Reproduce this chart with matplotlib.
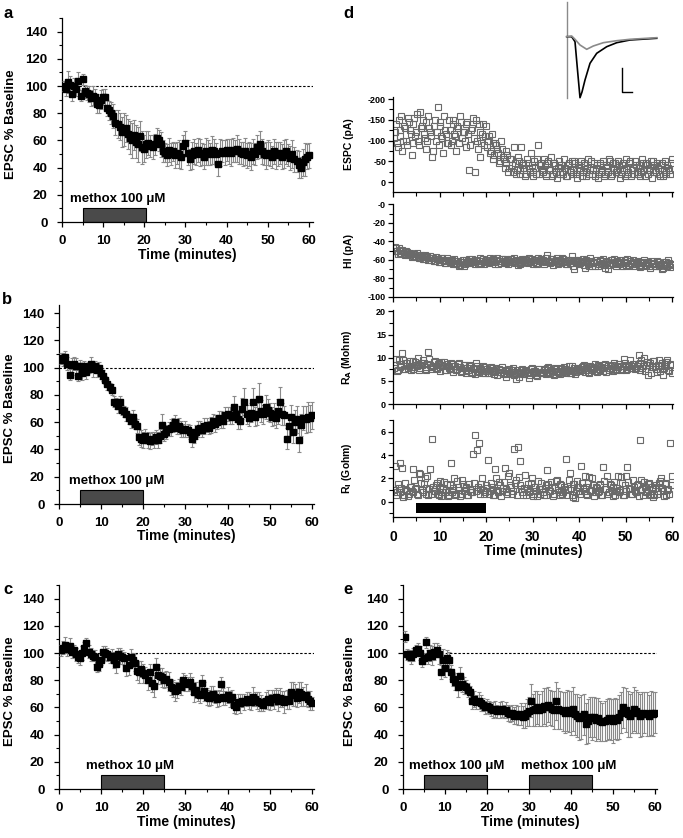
import numpy as np
import matplotlib
matplotlib.use("Agg")
import matplotlib.pyplot as plt
from matplotlib.ticker import MultipleLocator

plt.rcParams['font.family'] = ['Liberation Sans', 'DejaVu Sans']
plt.rcParams['font.weight'] = 'bold'
plt.rcParams['axes.unicode_minus'] = False

# time grids (one sample every 0.5 min for the summary panels, 0.2 min for the single cell)
t_main = np.arange(1, 121) * 0.5
t_cell = np.arange(1, 151) * 0.4
t_cell2 = t_cell - 0.2

# panel a - methox 100 uM
a_val = [100, 98, 103, 101, 94, 100, 98, 104, 93, 105,
         96, 95, 94, 91, 93, 92, 87, 86, 90, 92,
         92, 84, 82, 80, 78, 73, 72, 70, 66, 68,
         69, 65, 62, 60, 64, 59, 57, 63, 55, 54,
         57, 58, 56, 55, 57, 62, 60, 57, 52, 51,
         49, 53, 50, 52, 49, 51, 50, 48, 56, 58,
         51, 46, 49, 52, 50, 53, 51, 50, 48, 52,
         51, 50, 53, 52, 50, 43, 51, 52, 51, 53,
         52, 51, 53, 52, 54, 52, 51, 50, 52, 49,
         50, 48, 52, 50, 55, 57, 52, 50, 49, 51,
         50, 48, 52, 49, 50, 51, 48, 50, 52, 49,
         47, 50, 46, 45, 42, 40, 44, 46, 48, 49]
a_err = [4, 5, 8, 6, 5, 6, 5, 6, 4, 4,
         5, 5, 6, 6, 7, 6, 7, 6, 7, 6,
         6, 6, 7, 8, 9, 9, 10, 10, 11, 12,
         10, 11, 12, 13, 11, 12, 13, 11, 12, 10,
         10, 9, 8, 9, 8, 7, 8, 9, 8, 7,
         8, 9, 8, 7, 9, 8, 10, 9, 8, 9,
         9, 8, 10, 9, 8, 9, 10, 8, 9, 10,
         9, 8, 10, 9, 8, 9, 10, 8, 9, 8,
         9, 10, 9, 8, 10, 9, 8, 9, 10, 9,
         9, 10, 9, 8, 9, 10, 9, 8, 10, 9,
         9, 8, 9, 10, 9, 8, 9, 10, 9, 8,
         9, 10, 9, 8, 10, 8, 10, 12, 9, 9]

# panel b - methox 100 uM
b_val = [107, 106, 108, 103, 95, 102, 103, 101, 94, 101,
         96, 101, 97, 100, 103, 99, 101, 98, 100, 96,
         94, 91, 88, 86, 84, 75, 74, 72, 75, 69,
         68, 66, 63, 61, 64, 59, 57, 49, 48, 47,
         50, 47, 46, 48, 47, 49, 47, 50, 58, 51,
         53, 55, 56, 58, 60, 56, 57, 55, 54, 55,
         54, 53, 48, 50, 53, 55, 56, 54, 57, 58,
         56, 58, 61, 59, 60, 63, 62, 61, 65, 66,
         65, 64, 71, 66, 62, 61, 70, 75, 66, 63,
         67, 75, 64, 66, 77, 68, 66, 71, 69, 67,
         64, 66, 63, 68, 75, 66, 65, 48, 57, 64,
         53, 60, 62, 47, 58, 63, 62, 64, 63, 65]
b_err = [4, 5, 4, 5, 4, 5, 5, 6, 4, 5,
         5, 4, 5, 4, 5, 6, 4, 5, 4, 4,
         4, 3, 4, 3, 4, 4, 4, 5, 4, 4,
         4, 5, 4, 5, 5, 4, 5, 6, 6, 6,
         5, 6, 6, 5, 6, 5, 6, 5, 8, 5,
         5, 5, 6, 5, 5, 5, 6, 6, 5, 6,
         5, 5, 6, 5, 5, 6, 5, 5, 6, 5,
         5, 6, 5, 6, 5, 5, 6, 5, 6, 5,
         6, 5, 8, 6, 7, 6, 8, 10, 7, 6,
         7, 10, 7, 8, 12, 8, 7, 9, 8, 7,
         7, 8, 7, 9, 11, 8, 7, 8, 7, 9,
         8, 9, 10, 9, 8, 9, 10, 11, 10, 10]

# panel c - methox 10 uM
c_val = [102, 104, 106, 103, 105, 101, 102, 99, 97, 96,
         100, 104, 107, 101, 99, 98, 97, 90, 92, 95,
         101, 100, 99, 97, 98, 95, 92, 99, 98, 97,
         96, 89, 91, 97, 95, 93, 87, 86, 88, 85,
         84, 80, 86, 78, 76, 90, 84, 83, 82, 80,
         81, 79, 75, 74, 72, 73, 76, 75, 80, 78,
         77, 79, 76, 71, 73, 70, 69, 78, 72, 68,
         67, 69, 70, 68, 66, 67, 77, 68, 67, 69,
         66, 68, 62, 60, 64, 63, 65, 64, 66, 65,
         64, 68, 66, 65, 64, 63, 62, 65, 66, 64,
         67, 66, 68, 65, 67, 66, 64, 66, 65, 71,
         70, 69, 67, 71, 70, 68, 69, 66, 65, 63]
c_err = [4, 5, 6, 5, 6, 5, 4, 5, 4, 5,
         5, 4, 4, 5, 5, 4, 5, 4, 5, 4,
         4, 5, 5, 4, 5, 6, 7, 5, 6, 5,
         5, 6, 7, 6, 5, 6, 7, 8, 6, 7,
         6, 7, 6, 7, 8, 6, 7, 6, 7, 6,
         6, 7, 6, 6, 7, 6, 5, 6, 5, 6,
         5, 6, 6, 7, 6, 5, 6, 6, 7, 6,
         6, 7, 6, 5, 6, 6, 5, 6, 5, 6,
         6, 5, 6, 5, 6, 7, 5, 6, 5, 6,
         6, 7, 5, 6, 7, 6, 5, 6, 7, 6,
         6, 7, 6, 8, 7, 6, 8, 7, 6, 8,
         9, 8, 7, 8, 9, 7, 8, 6, 7, 5]

# panel e - two applications of methox 100 uM
e_val = [112, 99, 98, 97, 99, 102, 103, 100, 94, 96,
         108, 97, 100, 98, 101, 102, 99, 86, 95, 89,
         96, 95, 86, 81, 79, 75, 83, 77, 76, 75,
         73, 71, 65, 66, 64, 65, 63, 62, 60, 61,
         60, 59, 58, 59, 57, 58, 59, 57, 58, 56,
         55, 56, 54, 55, 54, 55, 53, 54, 56, 57,
         65, 58, 59, 60, 58, 59, 61, 60, 62, 60,
         59, 58, 65, 59, 58, 57, 56, 58, 57, 56,
         59, 55, 54, 52, 53, 55, 48, 50, 53, 52,
         53, 51, 52, 50, 49, 50, 51, 52, 51, 50,
         52, 51, 53, 56, 60, 58, 55, 54, 56, 59,
         57, 56, 54, 55, 56, 55, 54, 56, 55, 56]
e_err = [4, 4, 4, 5, 5, 4, 4, 5, 4, 4,
         4, 5, 6, 7, 6, 5, 7, 5, 8, 7,
         6, 6, 5, 5, 6, 7, 7, 6, 6, 5,
         5, 5, 6, 6, 5, 6, 6, 5, 5, 5,
         5, 5, 6, 6, 5, 6, 6, 5, 6, 6,
         6, 6, 6, 7, 7, 8, 8, 9, 10, 11,
         12, 12, 13, 12, 12, 13, 13, 14, 13, 13,
         13, 14, 14, 15, 14, 14, 15, 15, 15, 16,
         16, 15, 16, 16, 16, 15, 15, 16, 15, 16,
         15, 16, 15, 15, 14, 15, 15, 15, 15, 16,
         15, 15, 16, 15, 15, 16, 17, 16, 15, 16,
         16, 15, 16, 16, 15, 16, 15, 16, 16, 15]

# panel d - single cell recording (two interleaved sample sets)
espc = [-120, -95, -150, -110, -75, -135, -100, -155, -125, -65,
        -140, -110, -165, -90, -130, -150, -105, -80, -160, -120,
        -60, -135, -100, -180, -145, -110, -70, -125, -95, -150,
        -90, -140, -115, -75, -130, -160, -105, -120, -85, -145,
        -30, -125, -155, -25, -100, -140, -60, -115, -90, -135,
        -100, -70, -115, -55, -95, -80, -45, -100, -60, -35,
        -75, -25, -55, -40, -85, -20, -60, -30, -85, -45,
        -15, -55, -35, -70, -25, -50, -20, -90, -40, -30,
        -55, -15, -45, -30, -60, -20, -40, -10, -50, -35,
        -25, -55, -15, -40, -30, -50, -20, -45, -10, -35,
        -50, -25, -40, -15, -55, -30, -20, -45, -35, -10,
        -40, -25, -50, -20, -35, -55, -15, -45, -30, -25,
        -50, -10, -40, -30, -55, -20, -45, -15, -35, -50,
        -25, -40, -15, -55, -30, -45, -20, -35, -10, -50,
        -30, -45, -20, -40, -15, -50, -25, -35, -20, -55]
espc2 = [-105, -140, -85, -125, -160, -100, -130, -90, -145, -115,
         -95, -155, -120, -100, -170, -135, -115, -145, -100, -130,
         -110, -75, -150, -120, -90, -135, -105, -160, -115, -95,
         -125, -100, -150, -110, -135, -95, -145, -120, -100, -140,
         -115, -90, -130, -105, -150, -80, -120, -95, -140, -110,
         -85, -110, -75, -95, -65, -90, -70, -50, -80, -55,
         -45, -65, -35, -55, -25, -45, -30, -50, -20, -40,
         -35, -20, -45, -25, -40, -15, -35, -55, -20, -45,
         -25, -40, -20, -50, -30, -15, -45, -25, -35, -20,
         -40, -20, -35, -15, -45, -25, -30, -50, -20, -40,
         -30, -15, -45, -25, -35, -20, -50, -30, -15, -40,
         -20, -45, -30, -15, -40, -25, -50, -20, -35, -45,
         -30, -40, -20, -45, -15, -35, -25, -50, -30, -20,
         -40, -20, -35, -25, -45, -15, -40, -30, -50, -25,
         -40, -25, -35, -15, -45, -30, -20, -40, -30, -45]
hold_i = [-46, -50, -47, -52, -49, -54, -50, -55, -52, -57,
          -53, -56, -52, -58, -55, -59, -55, -57, -60, -56,
          -58, -61, -57, -59, -62, -58, -60, -63, -58, -61,
          -60, -63, -59, -64, -61, -65, -62, -66, -60, -63,
          -59, -62, -61, -64, -60, -63, -58, -61, -64, -60,
          -62, -58, -61, -60, -64, -58, -61, -63, -59, -59,
          -61, -64, -59, -62, -58, -61, -65, -60, -63, -61,
          -59, -62, -58, -61, -64, -60, -63, -58, -61, -60,
          -64, -61, -55, -62, -59, -65, -61, -58, -63, -60,
          -58, -62, -64, -60, -63, -56, -66, -60, -61, -64,
          -62, -59, -69, -61, -64, -58, -67, -62, -60, -66,
          -61, -64, -59, -69, -62, -65, -60, -63, -59, -67,
          -63, -60, -66, -62, -65, -59, -67, -63, -60, -66,
          -62, -65, -68, -63, -60, -66, -62, -69, -64, -63,
          -66, -61, -67, -64, -69, -62, -66, -60, -68, -64]
hold_i2 = [-50, -47, -53, -49, -52, -50, -55, -51, -54, -53,
           -56, -54, -57, -55, -58, -56, -59, -57, -56, -58,
           -60, -58, -61, -59, -62, -60, -58, -61, -63, -60,
           -62, -60, -64, -61, -63, -66, -62, -60, -64, -62,
           -61, -63, -59, -62, -60, -64, -61, -63, -59, -62,
           -60, -63, -61, -59, -62, -60, -64, -61, -59, -62,
           -63, -60, -62, -59, -61, -63, -60, -62, -64, -59,
           -62, -60, -63, -61, -59, -62, -60, -64, -61, -59,
           -60, -62, -58, -61, -63, -59, -62, -60, -64, -61,
           -62, -59, -61, -64, -60, -63, -61, -70, -62, -60,
           -63, -61, -65, -60, -62, -66, -61, -63, -67, -62,
           -64, -60, -63, -65, -61, -70, -63, -60, -64, -62,
           -61, -64, -62, -66, -60, -63, -65, -61, -64, -62,
           -64, -61, -63, -66, -62, -65, -63, -67, -61, -64,
           -63, -67, -62, -65, -70, -64, -62, -66, -63, -65]
r_a = [8.5, 7.2, 9.5, 8.0, 11.0, 7.5, 8.8, 7.8, 9.2, 8.0,
       7.6, 9.0, 8.3, 7.4, 8.8, 9.6, 8.0, 7.5, 11.3, 8.5,
       8.0, 9.1, 7.7, 8.6, 7.9, 9.0, 8.2, 7.4, 8.7, 7.8,
       8.9, 7.5, 8.2, 7.3, 8.6, 7.9, 7.1, 8.4, 6.8, 7.7,
       8.3, 7.0, 7.8, 6.5, 8.1, 7.2, 7.6, 6.8, 7.9, 7.1,
       6.6, 7.4, 7.8, 6.9, 7.2, 6.3, 7.6, 7.0, 6.5, 7.3,
       5.8, 7.1, 6.7, 7.4, 6.2, 5.5, 7.0, 6.6, 7.3, 6.4,
       7.2, 6.8, 5.6, 7.5, 6.9, 7.1, 6.3, 7.6, 6.6, 7.0,
       7.4, 6.5, 7.8, 6.9, 7.3, 6.4, 7.7, 7.0, 6.6, 7.5,
       7.1, 7.9, 6.7, 7.4, 6.8, 8.1, 7.2, 6.5, 7.8, 7.3,
       7.6, 8.3, 7.0, 7.7, 6.9, 8.2, 7.4, 7.9, 7.1, 8.4,
       7.5, 8.0, 7.2, 8.6, 7.7, 7.3, 8.1, 7.6, 8.8, 7.4,
       7.9, 8.3, 7.5, 9.8, 8.0, 7.6, 8.4, 7.8, 8.7, 7.5,
       8.2, 10.5, 8.9, 7.7, 10.0, 8.4, 6.2, 8.8, 7.9, 9.2,
       8.1, 7.0, 9.5, 8.3, 6.3, 8.7, 9.1, 7.4, 8.6, 6.8]
r_a2 = [7.8, 9.8, 7.3, 8.6, 8.2, 9.4, 7.6, 8.9, 8.1, 7.4,
        9.3, 7.9, 8.5, 9.9, 7.7, 8.4, 8.9, 7.3, 8.6, 9.7,
        7.5, 8.3, 9.2, 7.6, 8.8, 7.2, 8.5, 9.0, 7.4, 8.1,
        7.6, 8.7, 7.0, 8.2, 7.5, 8.8, 6.9, 7.8, 8.4, 7.2,
        7.4, 8.5, 6.7, 7.6, 8.9, 6.9, 7.7, 7.3, 8.2, 6.6,
        7.5, 6.8, 8.0, 7.1, 6.4, 7.7, 6.9, 7.4, 7.9, 6.7,
        7.2, 6.5, 7.6, 6.9, 7.8, 6.4, 7.3, 5.9, 6.8, 7.5,
        6.5, 7.4, 7.0, 6.3, 7.7, 6.6, 7.2, 6.0, 7.5, 6.8,
        7.0, 7.6, 6.6, 7.9, 6.8, 7.2, 6.3, 7.5, 7.1, 6.5,
        7.7, 6.9, 7.5, 7.1, 8.3, 6.6, 7.4, 7.8, 6.9, 7.6,
        7.2, 7.9, 8.5, 7.3, 7.8, 6.8, 8.0, 7.5, 8.7, 7.0,
        8.2, 7.4, 7.8, 8.4, 6.9, 8.3, 7.7, 8.5, 7.2, 8.0,
        7.6, 8.6, 7.3, 8.1, 8.9, 7.4, 8.2, 9.4, 7.7, 8.3,
        7.8, 8.6, 7.4, 9.6, 8.1, 7.2, 9.0, 8.5, 6.8, 8.0,
        9.3, 7.6, 8.4, 7.2, 8.9, 7.7, 8.2, 9.4, 7.1, 8.5]
r_i = [3.1, 0.8, 1.2, 3.3, 2.9, 0.6, 1.0, 0.5, 1.3, 0.9,
       2.8, 1.1, 0.7, 2.5, 1.6, 0.8, 2.0, 1.2, 0.6, 2.8,
       5.4, 0.9, 1.4, 0.7, 1.8, 0.5, 1.1, 0.8, 1.5, 0.6,
       3.3, 1.0, 2.0, 0.7, 1.3, 0.5, 1.9, 0.9, 1.2, 0.6,
       1.5, 0.8, 4.1, 5.7, 4.4, 5.0, 1.1, 2.0, 0.7, 1.4,
       3.6, 0.9, 1.3, 0.6, 2.8, 1.0, 1.7, 0.5, 1.2, 2.9,
       0.8, 2.2, 1.4, 0.7, 4.5, 1.9, 4.7, 3.5, 1.1, 0.6,
       2.3, 1.2, 0.8, 1.6, 0.5, 1.3, 0.9, 1.8, 0.7, 1.1,
       0.6, 1.4, 2.7, 0.9, 1.7, 0.5, 1.2, 1.9, 0.8, 1.5,
       0.7, 1.3, 3.7, 1.0, 2.5, 0.6, 1.5, 0.3, 1.8, 0.9,
       3.1, 1.2, 2.2, 0.7, 1.6, 0.9, 2.0, 0.5, 1.3, 0.8,
       1.5, 0.6, 3.0, 1.1, 2.2, 0.8, 1.4, 0.5, 1.7, 0.9,
       2.2, 1.0, 1.6, 0.6, 2.2, 3.0, 1.2, 0.7, 1.9, 0.9,
       1.4, 0.5, 5.3, 1.1, 1.7, 0.8, 1.5, 0.6, 1.3, 0.4,
       1.2, 0.7, 1.6, 2.0, 0.9, 1.5, 0.6, 1.1, 5.0, 2.2]
r_i2 = [1.0, 0.6, 1.5, 0.8, 1.2, 0.4, 1.6, 0.9, 0.7, 1.3,
        0.8, 1.9, 1.2, 0.6, 2.4, 1.0, 1.5, 0.7, 2.2, 1.1,
        0.7, 1.3, 0.9, 1.6, 0.6, 1.2, 0.8, 1.7, 1.0, 0.5,
        1.4, 0.8, 1.2, 0.6, 1.8, 1.0, 0.7, 1.5, 0.9, 1.3,
        0.6, 1.1, 0.8, 1.6, 0.9, 1.3, 0.7, 1.5, 1.0, 0.8,
        1.2, 0.7, 1.6, 1.0, 0.6, 2.0, 0.8, 1.4, 0.9, 1.7,
        1.1, 0.7, 2.5, 1.3, 0.9, 1.6, 0.6, 2.1, 1.4, 0.8,
        1.2, 0.6, 1.5, 0.9, 2.0, 0.7, 1.3, 0.5, 1.1, 1.6,
        0.8, 1.2, 0.6, 1.5, 0.9, 1.3, 0.7, 1.8, 1.0, 0.6,
        1.4, 0.8, 1.1, 0.6, 1.9, 1.2, 0.4, 1.5, 0.9, 1.3,
        0.7, 1.6, 0.9, 1.3, 0.6, 2.1, 1.0, 1.4, 0.8, 1.2,
        0.9, 1.4, 0.6, 1.8, 1.1, 0.7, 1.5, 0.9, 1.3, 0.6,
        1.2, 0.8, 2.1, 0.6, 1.4, 0.9, 1.7, 1.1, 0.7, 1.3,
        0.8, 1.5, 1.0, 1.9, 0.6, 1.3, 0.9, 1.6, 0.7, 1.1,
        0.6, 1.4, 0.9, 1.8, 1.2, 0.5, 1.6, 1.0, 0.7, 1.4]

# example traces (inset of d), arbitrary units
trace_t_ctrl = [0, 5, 8.3, 10.8, 13.3, 15.3, 18.3, 23.3, 30, 40, 50, 63.3, 90]
trace_ctrl = [0.8, 0.8, -4.2, -32.5, -60.2, -54.5, -42.5, -25.8, -15.8, -9.2, -5.2, -2.5, -0.8]
trace_t_drug = [0, 5, 8.3, 13.3, 20, 26.6, 36.6, 50, 63.3, 90]
trace_drug = [0.8, 1.5, -1.8, -7.5, -11.8, -8.5, -5.2, -3.2, -1.8, -0.2]
artifact = [35.8, -60.5]
scalebar_x = [55, 55, 65]
scalebar_y = [-30.8, -54.2, -54.2]

W, H = 683, 838
fig = plt.figure(figsize=(W / 100, H / 100), dpi=100)


def px_axes(left, top, right, bottom):
    return fig.add_axes([left / W, 1 - bottom / H, (right - left) / W, (bottom - top) / H])


def style_axes(ax, fs):
    for s in ['top', 'right']:
        ax.spines[s].set_visible(False)
    for s in ['left', 'bottom']:
        ax.spines[s].set_linewidth(0.9)
    ax.tick_params(which='major', direction='out', length=3.5, width=0.9, labelsize=fs)
    ax.tick_params(which='minor', direction='out', length=2.2, width=0.8)


def summary_panel(box, vals, errs, bars, labels, xmax, ymax, ylab_x):
    ax = px_axes(*box)
    ax.errorbar(t_main, vals, yerr=errs, fmt='s', color='black', ms=5,
                ecolor='#8a8a8a', elinewidth=0.8, capsize=1.6, capthick=0.8, zorder=3)
    ax.plot([0, xmax], [100, 100], color='black', lw=0.8, ls=(0, (2.2, 1.6)), zorder=1)
    for (x0, x1), (tx, txt) in zip(bars, labels):
        ax.bar(x0, 10.5, width=x1 - x0, align='edge', color='#4a4a4a',
               edgecolor='black', linewidth=0.8, zorder=2)
        ax.text(tx, 14.5, txt, fontsize=9.5, fontweight='bold', va='baseline')
    ax.set_xlim(0, xmax)
    ax.set_ylim(0, ymax)
    ax.set_xticks(range(0, 61, 10))
    ax.set_yticks(range(0, 141, 20))
    ax.xaxis.set_minor_locator(MultipleLocator(5))
    ax.yaxis.set_minor_locator(MultipleLocator(10))
    style_axes(ax, 9.5)
    ax.tick_params(axis='x', which='major', pad=6)
    ax.tick_params(axis='y', which='major', pad=7)
    ax.set_xlabel('Time (minutes)', fontsize=10, fontweight='bold')
    ax.set_ylabel('EPSC % Baseline', fontsize=9.5, fontweight='bold')
    ax.xaxis.set_label_coords(0.5, -0.125)
    ax.yaxis.set_label_coords(ylab_x, 0.48)
    return ax


summary_panel((62, 18, 313, 222), a_val, a_err, [(5, 20.3)], [(1.9, 'methox 100 μM')], 61, 150, -0.18)
summary_panel((59, 305, 314, 504), b_val, b_err, [(5, 20)], [(2.4, 'methox 100 μM')], 60.5, 146, -0.168)
summary_panel((59, 585, 314, 789), c_val, c_err, [(10, 25)], [(6.5, 'methox 10 μM')], 60.5, 150, -0.168)
summary_panel((403, 585, 657, 789), e_val, e_err, [(5, 20), (30, 45)],
              [(1.4, 'methox 100 μM'), (28, 'methox 100 μM')], 60.5, 150, -0.185)

# panel d: four stacked single-cell axes
cell_boxes = [(393, 97, 673, 192), (393, 204, 673, 297), (393, 310, 673, 404), (393, 420, 673, 517)]
cell_data = [(espc, espc2), (hold_i, hold_i2), (r_a, r_a2), (r_i, r_i2)]
cell_labels = ['ESPC (pA)', 'HI (pA)', 'R$_\\mathbf{A}$ (Mohm)', 'R$_\\mathbf{I}$ (Gohm)']
cell_ylims = [(24, -205), (-100, 0.5), (0, 20.3), (-1.3, 7.0)]
cell_ticks = [[-200, -150, -100, -50, 0], [0, -20, -40, -60, -80, -100], [0, 5, 10, 15, 20], [0, 2, 4, 6]]
cell_ticklabels = [['-200', '-150', '-100', '-50', '0'], ['-0', '-20', '-40', '-60', '-80', '-100'],
                   ['0', '5', '10', '15', '20'], ['0', '2', '4', '6']]
cell_minor = [25, 10, 2.5, 1]

for i, box in enumerate(cell_boxes):
    ax = px_axes(*box)
    first, second = cell_data[i]
    for tt, vv in [(t_cell2, second), (t_cell, first)]:
        ax.plot(tt, vv, ls='none', marker='s', ms=5,
                mfc='none', mec='#6a6a6a', mew=0.8)
    ax.set_xlim(0, 60.2)
    ax.set_ylim(*cell_ylims[i])
    ax.set_yticks(cell_ticks[i])
    ax.set_yticklabels(cell_ticklabels[i])
    ax.yaxis.set_minor_locator(MultipleLocator(cell_minor[i]))
    ax.set_xticks(range(0, 61, 10))
    ax.xaxis.set_minor_locator(MultipleLocator(5))
    style_axes(ax, 6.5)
    ax.tick_params(which='minor', length=3)
    ax.tick_params(axis='y', which='major', pad=1.5)
    ax.set_ylabel(cell_labels[i], fontsize=7.5, fontweight='bold')
    ax.yaxis.set_label_coords(-0.14, 0.5)
    if i < 3:
        ax.set_xticklabels([])
    else:
        ax.tick_params(axis='x', labelsize=10, pad=6)
        ax.bar(5, -0.85, bottom=-0.1, width=15, align='edge', color='black', zorder=3)
        ax.set_xlabel('Time (minutes)', fontsize=10, fontweight='bold')
        ax.xaxis.set_label_coords(0.5, -0.28)

# inset traces
ins = px_axes(560, 0, 665, 100)
ins.plot([0, 0], artifact, color='#8a8a8a', lw=1.0)
ins.plot(trace_t_ctrl, trace_ctrl, color='black', lw=1.2)
ins.plot(trace_t_drug, trace_drug, color='#8a8a8a', lw=1.2)
ins.plot(scalebar_x, scalebar_y, color='black', lw=1.0)
ins.set_xlim(-6.7, 98.3)
ins.set_ylim(-62.5, 37.5)
ins.axis('off')

# panel letters
for x, y, s in [(4, 14, 'a'), (2, 300, 'b'), (3, 590, 'c'), (343, 14, 'd'), (343, 590, 'e')]:
    fig.text(x / W, 1 - y / H, s, fontsize=12, fontweight='bold', va='center')

fig.savefig('out.png', dpi=100)
